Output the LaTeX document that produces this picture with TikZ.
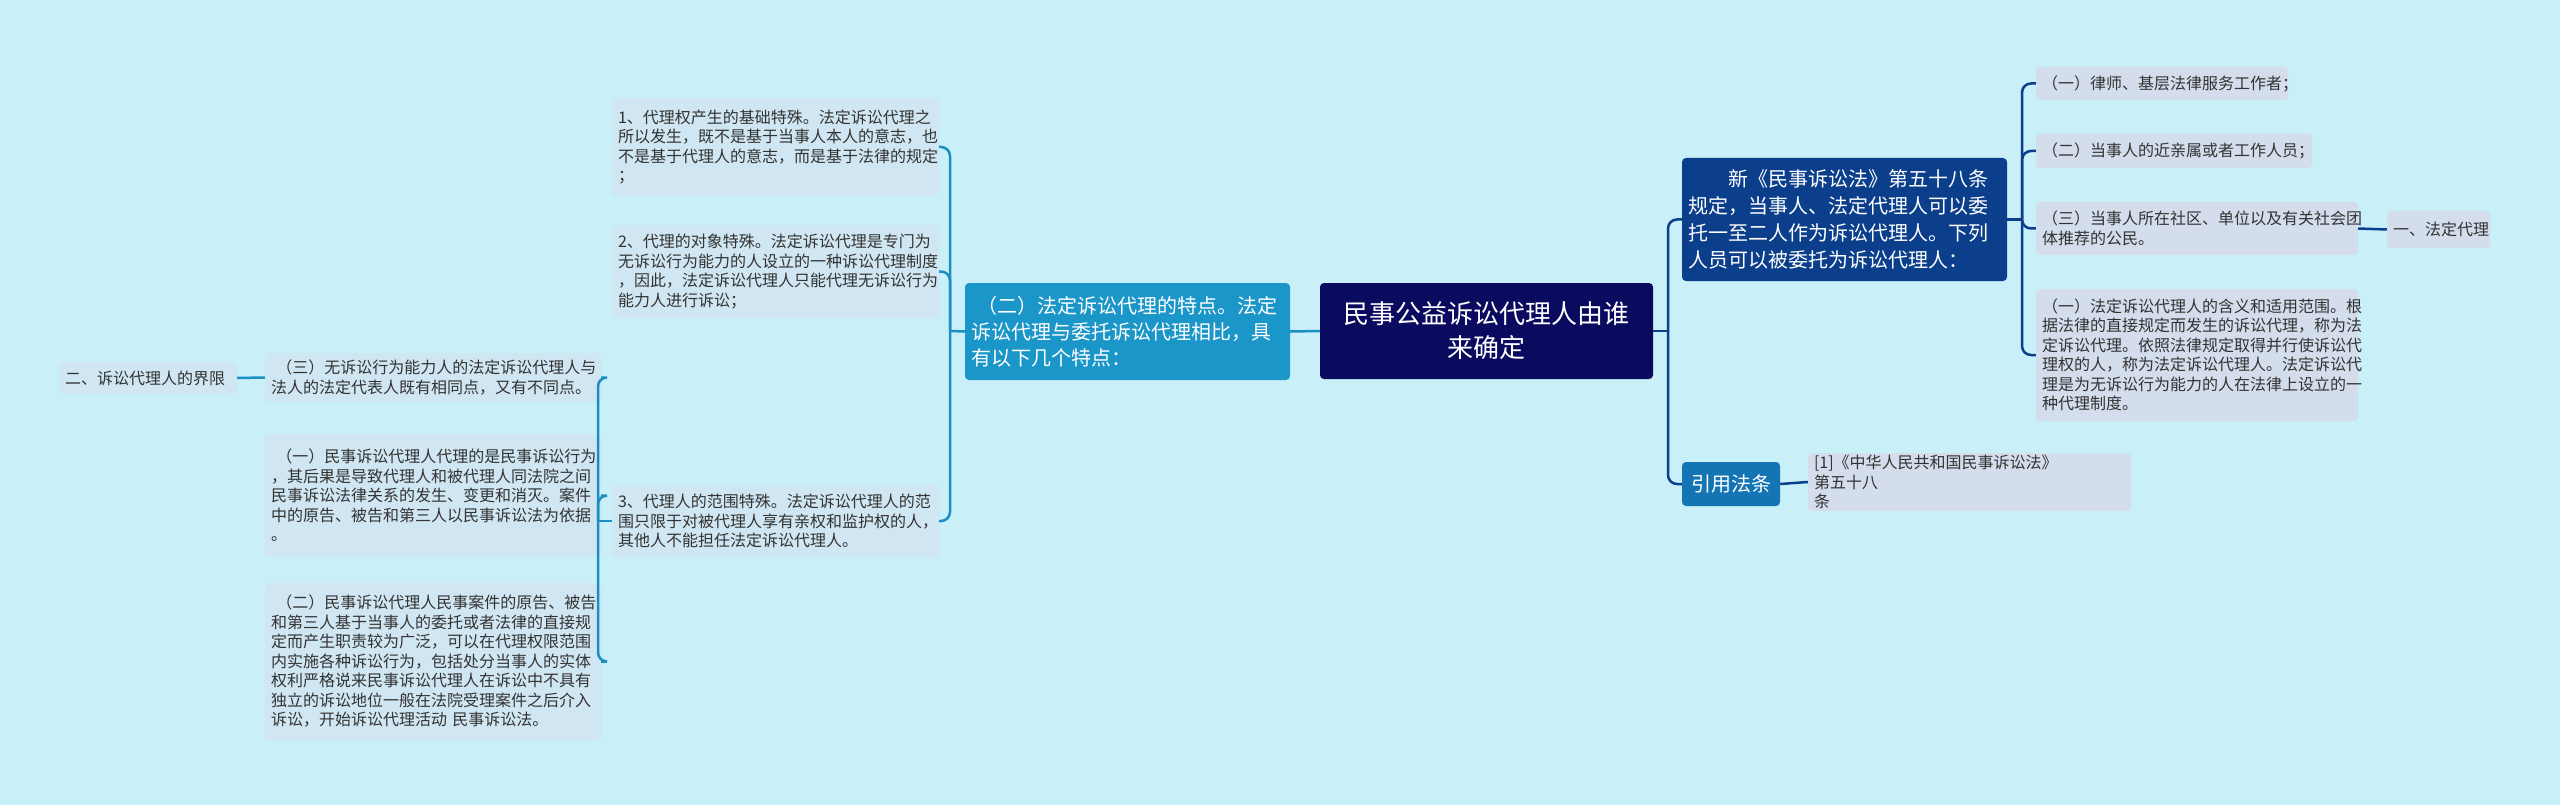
\documentclass[tikz,border=0pt]{standalone}
\usepackage{fontspec}
\setmainfont{Noto Sans CJK SC}
\begin{document}
\begin{tikzpicture}[x=1pt,y=-1pt,
  box/.style={rounded corners=4pt,inner xsep=6pt,inner ysep=2pt,align=left,font=\fontsize{16}{19.5}\selectfont,text=black!80},
  lleaf/.style={box,fill=lf},
  rleaf/.style={box,fill=rf},
  lconn/.style={draw=lc,line width=2.5pt,rounded corners=9pt},
  rconn/.style={draw=rc,line width=2.5pt,rounded corners=9pt}]
\definecolor{bg}{HTML}{C9EFF8}
\definecolor{lf}{HTML}{D0E6F2}
\definecolor{rf}{HTML}{D3DDEC}
\definecolor{cc}{HTML}{0A0A5E}
\definecolor{tc}{HTML}{0B3F8C}
\definecolor{lb}{HTML}{1A96C9}
\definecolor{yc}{HTML}{1574B3}
\definecolor{lc}{HTML}{1A8FC2}
\definecolor{rc}{HTML}{0B3F8C}
\fill[bg] (0,0) rectangle (2560,805);
\useasboundingbox (0,0) rectangle (2560,805);
% main nodes
\node[box,fill=cc,text=white,align=center,minimum width=333pt,minimum height=96pt,font=\fontsize{26}{34}\selectfont] (c) at (1486.5,331) {民事公益诉讼代理人由谁\\来确定};
\node[box,fill=lb,text=white,text width=313pt,minimum height=97pt,font=\fontsize{20}{26}\selectfont] (L) at (1127.5,331.5) {\ （二）法定诉讼代理的特点。法定\\诉讼代理与委托诉讼代理相比，具\\有以下几个特点：};
\node[box,fill=tc,text=white,text width=313pt,minimum height=123pt,font=\fontsize{20}{27}\selectfont] (T) at (1844.5,219.5) {\hspace*{40pt}新《民事诉讼法》第五十八条\\规定，当事人、法定代理人可以委\\托一至二人作为诉讼代理人。下列\\人员可以被委托为诉讼代理人：};
\node[box,fill=yc,text=white,align=center,minimum width=98pt,minimum height=44pt,font=\fontsize{20}{26}\selectfont] (Y) at (1731,484) {引用法条};
% right leaves
\node[rleaf,text width=240pt,minimum height=33pt] (r1) at (2162,83.5) {（一）律师、基层法律服务工作者；};
\node[rleaf,text width=264pt,minimum height=34pt] (r2) at (2174,151) {（二）当事人的近亲属或者工作人员；};
\node[rleaf,text width=310pt,minimum height=53pt] (r3) at (2197,228.5) {（三）当事人所在社区、单位以及有关社会团\\体推荐的公民。};
\node[rleaf,text width=91pt,minimum height=37pt] (r3b) at (2438.5,229.5) {一、法定代理};
\node[rleaf,text width=310pt,minimum height=132pt] (r4) at (2197,355) {（一）法定诉讼代理人的含义和适用范围。根\\据法律的直接规定而发生的诉讼代理，称为法\\定诉讼代理。依照法律规定取得并行使诉讼代\\理权的人，称为法定诉讼代理人。法定诉讼代\\理是为无诉讼行为能力的人在法律上设立的一\\种代理制度。};
\node[rleaf,text width=311pt,minimum height=54pt] (ref) at (1969.5,482) {[1]《中华人民共和国民事诉讼法》 第五十八\\条};
% left leaves
\node[lleaf,text width=315pt,minimum height=98pt] (p1) at (775.5,147) {1、代理权产生的基础特殊。法定诉讼代理之\\所以发生，既不是基于当事人本人的意志，也\\不是基于代理人的意志，而是基于法律的规定\\；};
\node[lleaf,text width=315pt,minimum height=93pt] (p2) at (775.5,271.5) {2、代理的对象特殊。法定诉讼代理是专门为\\无诉讼行为能力的人设立的一种诉讼代理制度\\，因此，法定诉讼代理人只能代理无诉讼行为\\能力人进行诉讼；};
\node[lleaf,text width=315pt,minimum height=72pt] (p3) at (775.5,521) {3、代理人的范围特殊。法定诉讼代理人的范\\围只限于对被代理人享有亲权和监护权的人，\\其他人不能担任法定诉讼代理人。};
\node[lleaf,text width=324pt,minimum height=49pt] (q3) at (433,377.5) {\ （三）无诉讼行为能力人的法定诉讼代理人与\\法人的法定代表人既有相同点，又有不同点。};
\node[lleaf,text width=324pt,minimum height=123pt] (q1) at (433,495.5) {\ （一）民事诉讼代理人代理的是民事诉讼行为\\，其后果是导致代理人和被代理人同法院之间\\民事诉讼法律关系的发生、变更和消灭。案件\\中的原告、被告和第三人以民事诉讼法为依据\\。};
\node[lleaf,text width=324pt,minimum height=157pt] (q2) at (433,661.5) {\ （二）民事诉讼代理人民事案件的原告、被告\\和第三人基于当事人的委托或者法律的直接规\\定而产生职责较为广泛，可以在代理权限范围\\内实施各种诉讼行为，包括处分当事人的实体\\权利严格说来民事诉讼代理人在诉讼中不具有\\独立的诉讼地位一般在法院受理案件之后介入\\诉讼，开始诉讼代理活动 民事诉讼法。};
\node[lleaf,text width=166pt,minimum height=32pt] (e2) at (148,378) {二、诉讼代理人的界限};
% connectors left
\draw[lconn] (c.west) -- (L.east);
\coordinate (b1) at (950,331);
\draw[lconn] (L.west) -- (b1);
\foreach \n in {p1,p2,p3} \draw[lconn] (b1) |- (\n.east);
\coordinate (b2) at (598,521);
\draw[lconn] (p3.west) -- (b2);
\foreach \n in {q3,q1,q2} \draw[lconn] (b2) |- (\n.east);
\draw[lconn] (q3.west) -- (e2.east);
% connectors right
\coordinate (b3) at (1668,331);
\draw[rconn] (c.east) -- (b3);
\foreach \n in {T,Y} \draw[rconn] (b3) |- (\n.west);
\coordinate (b4) at (2022,219.5);
\draw[rconn] (T.east) -- (b4);
\foreach \n in {r1,r2,r3,r4} \draw[rconn] (b4) |- (\n.west);
\draw[rconn] (r3.east) -- (r3b.west);
\draw[rconn] (Y.east) -- (ref.west);
\end{tikzpicture}
\end{document}
